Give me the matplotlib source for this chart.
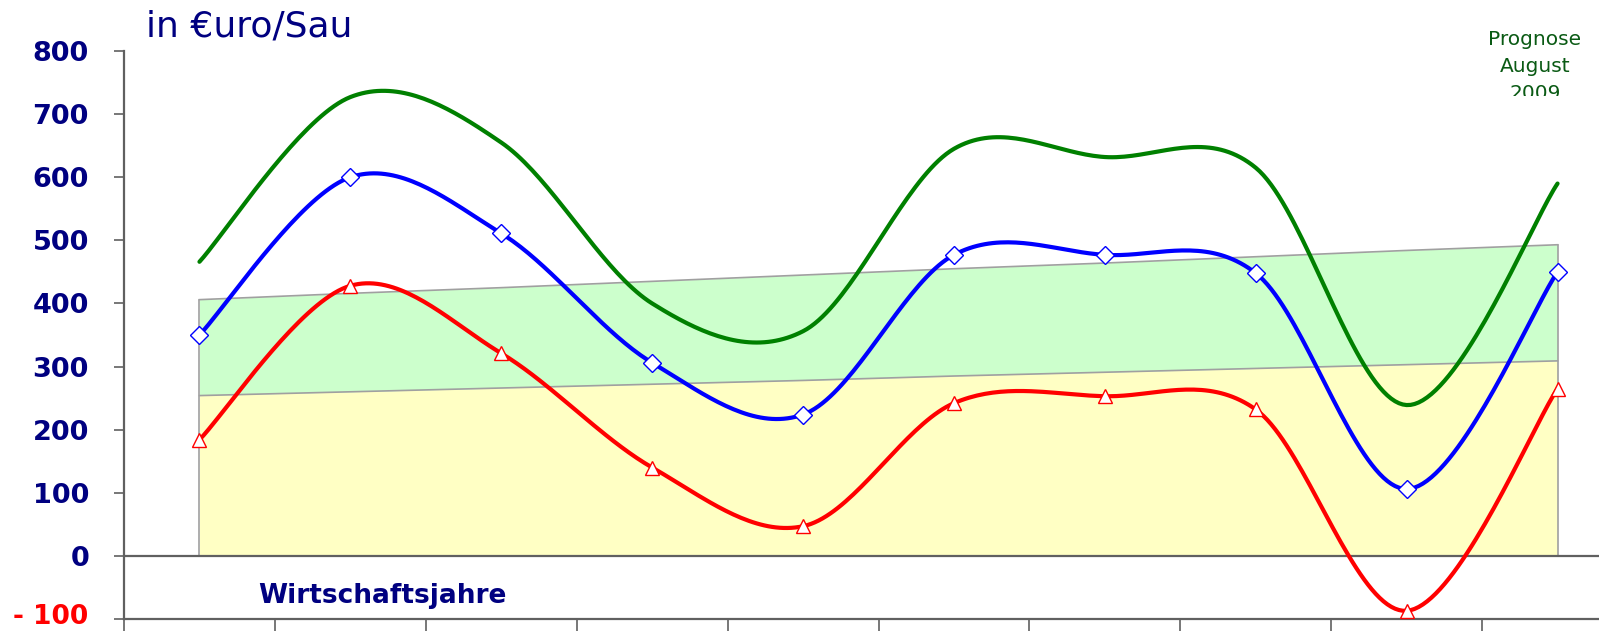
import numpy as np
import matplotlib
matplotlib.use("Agg")
import matplotlib.pyplot as plt
from matplotlib.transforms import Bbox, TransformedBbox, blended_transform_factory
from matplotlib.ticker import FixedLocator, FixedFormatter

# ---- data ----
categories = list(range(10))
green_vals = [466, 727, 655, 400, 356, 645, 632, 615, 239, 590]
blue_vals = [350, 600, 511, 306, 224, 477, 477, 448, 106, 450]
red_vals = [184, 428, 321, 140, 47, 242, 253, 232, -87, 265]
band_low = [254, 260, 266, 272, 278, 285, 291, 297, 303, 309]
band_high = [406, 416, 425, 435, 445, 455, 464, 474, 484, 493]
ytick_vals = [-100, 0, 100, 200, 300, 400, 500, 600, 700, 800]
ytick_labels = ["- 100", "0", "100", "200", "300", "400", "500", "600", "700", "800"]

W, H = 1599, 631
fig = plt.figure(figsize=(W / 100, H / 100), dpi=100)
fig.patch.set_facecolor("white")

left_px, top_px, bottom_px = 124, 51, 619
cat_w = 150.9
ax = fig.add_axes([left_px / W, (H - bottom_px) / H, 10 * cat_w / W, (bottom_px - top_px) / H])
ax.set_xlim(-0.5, 9.5)
ax.set_ylim(-100, 800)
ax.set_facecolor("none")


def smooth(xs, ys, n=40):
    P = np.column_stack([xs, ys]).astype(float)
    out = []
    m = len(P)
    for i in range(m - 1):
        p0 = P[i - 1] if i > 0 else P[i]
        p1, p2 = P[i], P[i + 1]
        p3 = P[i + 2] if i + 2 < m else P[i + 1]
        c1 = p1 + (p2 - p0) / 6.0
        c2 = p2 - (p3 - p1) / 6.0
        t = np.linspace(0, 1, n)[:, None]
        seg = ((1 - t) ** 3) * p1 + 3 * ((1 - t) ** 2) * t * c1 + 3 * (1 - t) * t ** 2 * c2 + t ** 3 * p2
        out.append(seg if i == 0 else seg[1:])
    S = np.vstack(out)
    return S[:, 0], S[:, 1]


x = np.array(categories, dtype=float)
# bands
ax.fill_between(x, 0, band_low, color="#FFFFC4", lw=0, zorder=1)
ax.fill_between(x, band_low, band_high, color="#CCFFCC", lw=0, zorder=1)
ax.plot(x, band_low, color="#A0A0A0", lw=1.2, zorder=2)
ax.plot(x, band_high, color="#A0A0A0", lw=1.2, zorder=2)
ax.plot([x[0], x[0]], [0, band_high[0]], color="#A0A0A0", lw=1.2, zorder=2)
ax.plot([x[-1], x[-1]], [0, band_high[-1]], color="#A0A0A0", lw=1.2, zorder=2)

# zero line
ax.axhline(0, color="#606060", lw=1.6, zorder=3)

# curves
for vals, col, mk in [(green_vals, "#008000", None), (blue_vals, "#0000FF", "D"), (red_vals, "#FF0000", "^")]:
    sx, sy = smooth(x, vals)
    ax.plot(sx, sy, color=col, lw=3.0, zorder=5, solid_capstyle="round")
    if mk:
        ax.plot(x, vals, ls="none", marker=mk, ms=9 if mk == "D" else 10, mfc="white",
                mec=col, mew=1.0, zorder=6)

# axes styling
for s in ["top", "right"]:
    ax.spines[s].set_visible(False)
ax.spines["left"].set_color("#606060")
ax.spines["left"].set_linewidth(1.6)
ax.spines["bottom"].set_color("#606060")
ax.spines["bottom"].set_linewidth(1.6)

shown_labels = ["" if v < 0 else l for v, l in zip(ytick_vals, ytick_labels)]
ax.yaxis.set_major_locator(FixedLocator(ytick_vals))
ax.yaxis.set_major_formatter(FixedFormatter(shown_labels))
ax.tick_params(axis="y", direction="out", length=7.2, width=1.2, color="#606060", pad=18)
for lab in ax.get_yticklabels():
    lab.set_fontfamily("DejaVu Sans")
    lab.set_fontweight("bold")
    lab.set_fontsize(19.5)
    lab.set_color("#000080")

# negative tick label drawn separately so that it stays inside the picture
fig.text(88 / W, 1 - 624 / H, ytick_labels[0], fontsize=19, fontweight="bold",
         color="#FF0000", family="DejaVu Sans", ha="right", va="baseline")

ax.xaxis.set_major_locator(FixedLocator([c - 0.5 for c in categories] + [9.5]))
ax.xaxis.set_major_formatter(FixedFormatter([""] * 11))
ax.tick_params(axis="x", direction="out", length=12, width=1.2, color="#606060")

# texts
fig.text(146 / W, 1 - 37 / H, "in €uro/Sau", fontsize=26, color="#000080",
         family="DejaVu Sans", ha="left", va="baseline")
fig.text(258 / W, 1 - 603 / H, "Wirtschaftsjahre", fontsize=19, fontweight="bold",
         color="#000080", family="DejaVu Sans", ha="left", va="baseline")

clip = TransformedBbox(Bbox([[0, 1 - 96 / H], [1, 1]]), fig.transFigure)
for line, base in [("Prognose", 45), ("August", 72), ("2009", 99)]:
    t = fig.text(1535 / W, 1 - base / H, line, fontsize=14.5, color="#0A5A14",
                 family="DejaVu Sans", ha="center", va="baseline")
    t.set_clip_on(True)
    t.set_clip_box(clip)

fig.savefig("out.png", dpi=100)
